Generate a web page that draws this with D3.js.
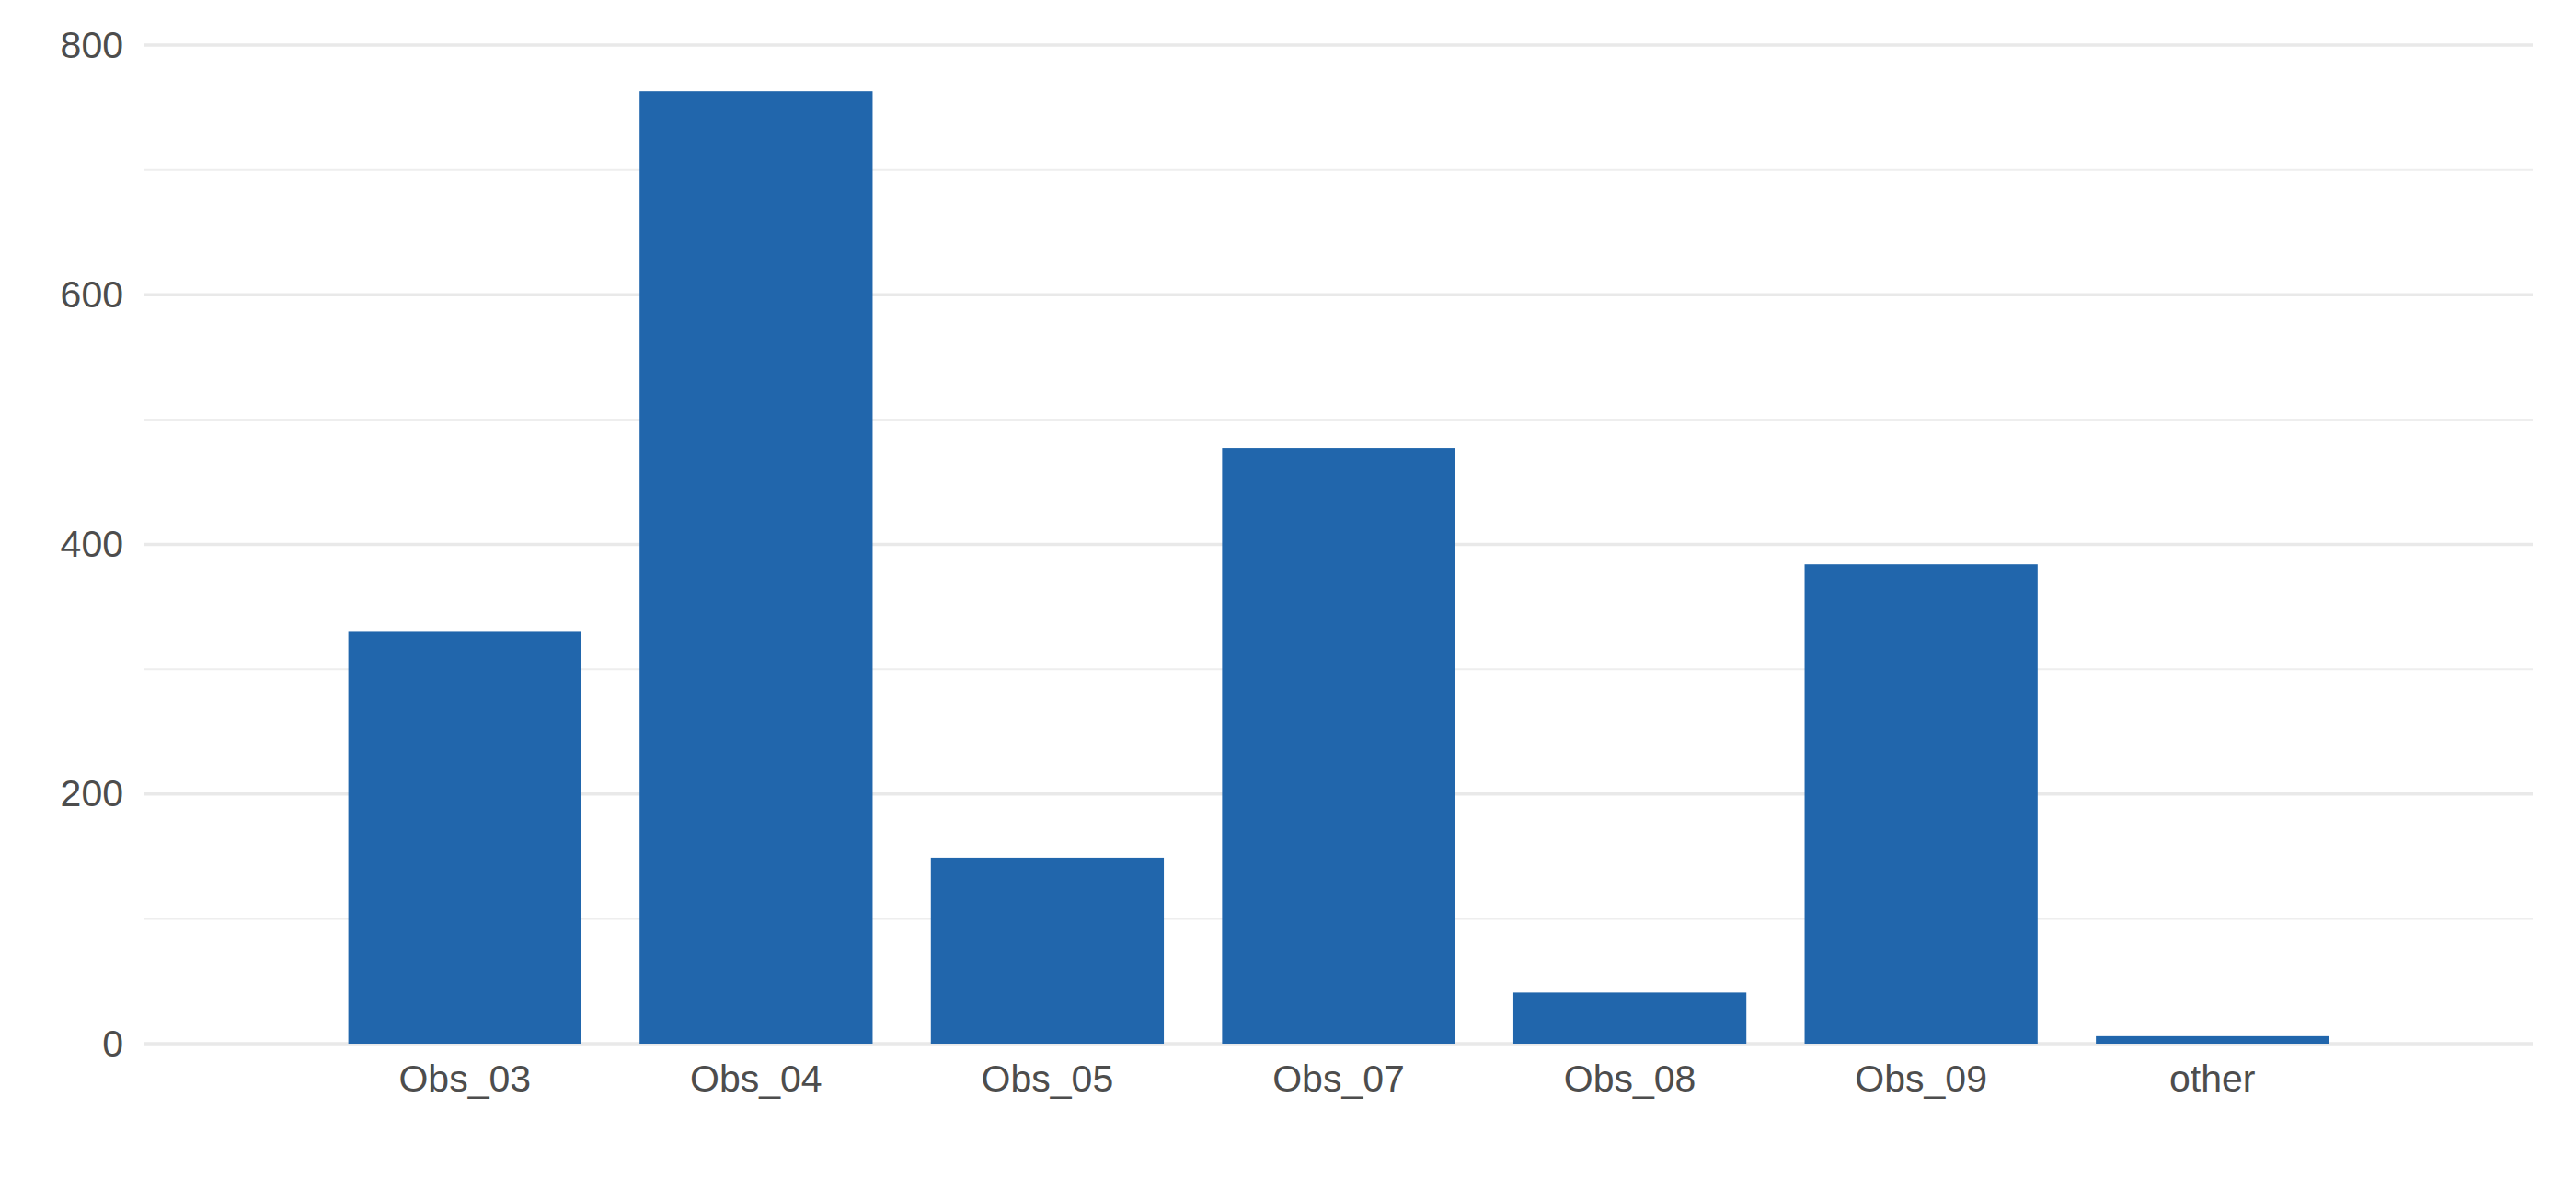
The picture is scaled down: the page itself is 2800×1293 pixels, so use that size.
<!DOCTYPE html>
<html>
<head>
<meta charset="utf-8">
<script src="https://cdn.jsdelivr.net/npm/d3@7"></script>
<style>
  html, body { margin: 0; padding: 0; background: #ffffff; }
  svg { display: block; }
  text { font-family: "Liberation Sans", Arial, sans-serif; }
</style>
</head>
<body>
<svg id="chart" width="2800" height="1293"></svg>
<script>
const categories = ["Obs_03", "Obs_04", "Obs_05", "Obs_07", "Obs_08", "Obs_09", "other"];
const values = [330, 763, 149, 477, 41, 384, 6];
const yTicks = [0, 200, 400, 600, 800];
const yMinorTicks = [100, 300, 500, 700];

const W = 2800, H = 1293;
const margin = { left: 157, right: 47, top: 49, bottom: 159 };

const svg = d3.select("#chart");

const x = d3.scaleBand()
  .domain(categories)
  .range([margin.left, W - margin.right])
  .paddingInner(0.2)
  .paddingOuter(0.7);

const y = d3.scaleLinear()
  .domain([0, 800])
  .range([H - margin.bottom, margin.top]);

// minor gridlines
svg.append("g").selectAll("line")
  .data(yMinorTicks)
  .join("line")
  .attr("x1", margin.left)
  .attr("x2", W - margin.right)
  .attr("y1", d => y(d))
  .attr("y2", d => y(d))
  .attr("stroke", "#eeeeee")
  .attr("stroke-width", 2);

// major gridlines
svg.append("g").selectAll("line")
  .data(yTicks)
  .join("line")
  .attr("x1", margin.left)
  .attr("x2", W - margin.right)
  .attr("y1", d => y(d))
  .attr("y2", d => y(d))
  .attr("stroke", "#e9e9e9")
  .attr("stroke-width", 3.5);

// bars
svg.append("g").selectAll("rect")
  .data(categories.map((c, i) => ({ c, v: values[i] })))
  .join("rect")
  .attr("x", d => x(d.c))
  .attr("width", x.bandwidth())
  .attr("y", d => y(d.v))
  .attr("height", d => y(0) - y(d.v))
  .attr("fill", "#2166AC");

// y axis
const yAxis = svg.append("g")
  .attr("transform", `translate(${margin.left},0)`)
  .call(d3.axisLeft(y).tickValues(yTicks).tickSize(0).tickPadding(23));
yAxis.select(".domain").remove();
yAxis.selectAll("text")
  .attr("font-size", 41)
  .attr("fill", "#4d4d4d")
  .attr("font-family", "'Liberation Sans', Arial, sans-serif");

// x axis
const xAxis = svg.append("g")
  .attr("transform", `translate(0,${y(0)})`)
  .call(d3.axisBottom(x).tickSize(0).tickPadding(23));
xAxis.select(".domain").remove();
xAxis.selectAll("text")
  .attr("font-size", 41)
  .attr("fill", "#4d4d4d")
  .attr("font-family", "'Liberation Sans', Arial, sans-serif");
</script>
</body>
</html>
